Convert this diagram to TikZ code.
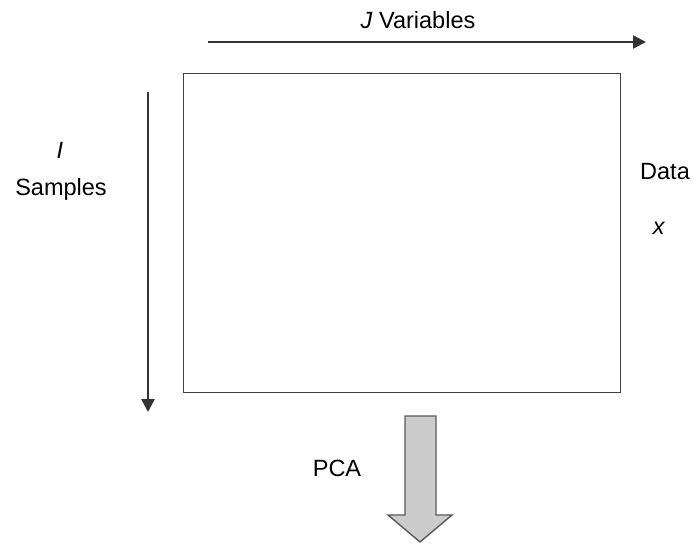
\documentclass[tikz,border=0pt]{standalone}
\usepackage{fontspec}
\setmainfont{Liberation Sans}
\usetikzlibrary{arrows.meta}
\begin{document}
\begin{tikzpicture}[x=1pt,y=-1pt,
  lbl/.style={font=\fontsize{23.5}{27}\selectfont, inner sep=0pt},
  axis/.style={line width=2.4pt, draw=black!80, -{Triangle[length=13pt,width=13pt]}},
  databox/.style={draw=black!75, line width=1.3pt},
  bigarrow/.style={fill=black!20, draw=black!65, line width=1.4pt, line join=miter}]
\useasboundingbox (0,0) rectangle (693,551);
\node[databox, minimum width=437pt, minimum height=319pt, anchor=north west, inner sep=0pt] (box) at (183,73) {};
\coordinate (ja) at (208,42);
\coordinate (jb) at (646,42);
\draw[axis] (ja) -- (jb);
\node[lbl] (jlab) at (418,20) {\textit{J} Variables};
\coordinate (ia) at (148,92);
\coordinate (ib) at (148,412);
\draw[axis] (ia) -- (ib);
\node[lbl] (ilab) at (60,150) {\textit{I}};
\node[lbl] (samples) at (61,189) {Samples};
\node[lbl] (data) at (665,172) {Data};
\node[lbl] (xlab) at (659,228) {\textit{x}};
\draw[bigarrow] (405,416) -- (436,416) -- (436,515) -- (452,515) -- (420,542) -- (388,515) -- (405,515) -- cycle;
\node[lbl] (pca) at (337,468) {PCA};
\end{tikzpicture}
\end{document}
